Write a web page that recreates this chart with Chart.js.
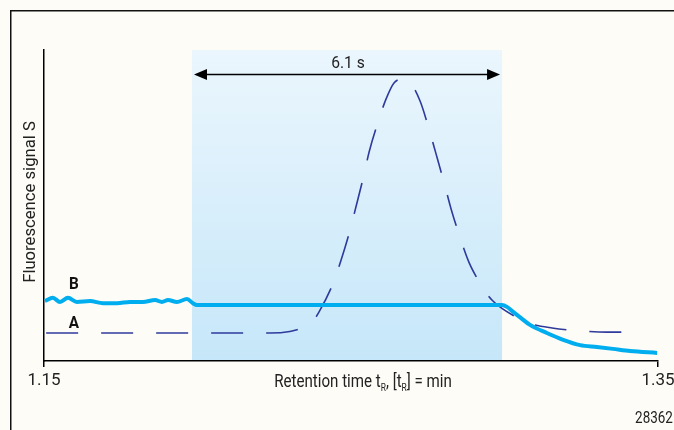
<!DOCTYPE html>
<html>
<head>
<meta charset="utf-8">
<script src="https://cdn.jsdelivr.net/npm/chart.js@4.4.1/dist/chart.umd.min.js"></script>
<style>
html,body{margin:0;padding:0;background:#fdfcf6;}
canvas{display:block;}
</style>
</head>
<body>
<canvas id="c" width="674" height="430"></canvas>
<script>
// ---- data (x in min, y in arbitrary signal units 0..100) ----
const xTickLabels = [1.15, 1.35];
const bandRange = [1.1982, 1.2992];      // 6.1 s window
const bandLabel = "6.1 s";
const arrowLevel = 92.3;

const timesA = [1.1507, 1.2236, 1.2301, 1.2340, 1.2373, 1.2396, 1.2441, 1.2467, 1.2497, 1.2516, 1.2542, 1.2559, 1.2588, 1.2614, 1.2640, 1.2669, 1.2692, 1.2725, 1.2757, 1.2777, 1.2806, 1.2826, 1.2858, 1.2884, 1.2910, 1.2933, 1.2959, 1.2985, 1.3031, 1.3077, 1.3155, 1.3262, 1.3334, 1.3441];
const signalA = [9.0, 9.0, 9.5, 10.6, 12.5, 15.8, 24.8, 32.2, 42.1, 49.5, 59.8, 67.2, 76.8, 84.2, 89.4, 90.7, 89.7, 83.6, 73.6, 66.6, 56.3, 48.9, 38.9, 31.8, 26.7, 22.8, 19.6, 17.4, 14.5, 12.2, 10.6, 9.6, 9.3, 9.3];

const timesB = [1.1503, 1.1529, 1.1552, 1.1578, 1.1607, 1.1650, 1.1692, 1.1738, 1.1780, 1.1822, 1.1862, 1.1884, 1.1904, 1.1933, 1.1966, 1.1985, 1.1998, 1.2500, 1.2992, 1.3008, 1.3028, 1.3054, 1.3083, 1.3138, 1.3191, 1.3246, 1.3301, 1.3353, 1.3409, 1.3497];
const signalB = [19.3, 20.3, 19.0, 20.3, 19.0, 19.3, 18.6, 18.6, 19.0, 19.0, 19.6, 19.0, 19.6, 19.0, 19.9, 18.6, 18.0, 18.0, 18.0, 17.4, 15.8, 13.8, 11.6, 9.0, 6.8, 5.1, 4.5, 3.9, 3.2, 2.6];

const FONT = 'Roboto, "Liberation Sans", sans-serif';

const pts = (xs, ys) => xs.map((x, i) => ({x: x, y: ys[i]}));

function txt(ctx, s, x, y, font, align, sx) {
  ctx.save();
  ctx.font = font;
  ctx.textAlign = 'left';
  const w = ctx.measureText(s).width * sx;
  let left = x;
  if (align === 'center') left = x - w / 2;
  else if (align === 'right') left = x - w;
  ctx.translate(left, y);
  ctx.scale(sx, 1);
  ctx.fillText(s, 0, 0);
  ctx.restore();
  return w;
}

const overlay = {
  id: 'overlay',
  beforeDraw(chart) {
    const ctx = chart.ctx, W = chart.width, H = chart.height;
    const ca = chart.chartArea, xs = chart.scales.x;
    ctx.save();
    ctx.fillStyle = '#fdfcf6';
    ctx.fillRect(0, 0, W, H);
    ctx.strokeStyle = '#111';
    ctx.lineWidth = 1.5;
    ctx.beginPath();
    ctx.moveTo(10.75, H);
    ctx.lineTo(10.75, 10.75);
    ctx.lineTo(W, 10.75);
    ctx.stroke();
    const x0 = xs.getPixelForValue(bandRange[0]);
    const x1 = xs.getPixelForValue(bandRange[1]);
    const g = ctx.createLinearGradient(0, ca.top, 0, ca.bottom);
    g.addColorStop(0, '#ebf6fd');
    g.addColorStop(1, '#c6e7f9');
    ctx.fillStyle = g;
    ctx.fillRect(x0, ca.top, x1 - x0, ca.bottom - ca.top);
    ctx.restore();
  },
  afterDraw(chart) {
    const ctx = chart.ctx;
    const xs = chart.scales.x, ys = chart.scales.y;
    ctx.save();
    const x0 = xs.getPixelForValue(bandRange[0]) + 2;
    const x1 = xs.getPixelForValue(bandRange[1]) - 2;
    const ay = Math.round(ys.getPixelForValue(arrowLevel)) + 0.5;
    ctx.strokeStyle = '#000';
    ctx.fillStyle = '#000';
    ctx.lineWidth = 1.5;
    ctx.beginPath();
    ctx.moveTo(x0 + 8, ay); ctx.lineTo(x1 - 8, ay); ctx.stroke();
    ctx.beginPath();
    ctx.moveTo(x0, ay); ctx.lineTo(x0 + 13, ay - 5.5); ctx.lineTo(x0 + 13, ay + 5.5); ctx.closePath(); ctx.fill();
    ctx.beginPath();
    ctx.moveTo(x1, ay); ctx.lineTo(x1 - 13, ay - 5.5); ctx.lineTo(x1 - 13, ay + 5.5); ctx.closePath(); ctx.fill();
    ctx.fillStyle = '#222';
    ctx.textBaseline = 'alphabetic';
    txt(ctx, bandLabel, (x0 + x1) / 2 + 1, ay - 7, '17px ' + FONT, 'center', 0.92);
    ctx.fillStyle = '#111';
    txt(ctx, 'B', 74, 289, 'bold 17px ' + FONT, 'center', 0.9);
    txt(ctx, 'A', 74, 328, 'bold 17px ' + FONT, 'center', 0.9);
    // y axis title
    ctx.save();
    ctx.translate(35, 202);
    ctx.rotate(-Math.PI / 2);
    ctx.fillStyle = '#222';
    txt(ctx, 'Fluorescence signal S', 0, 0, '17px ' + FONT, 'center', 0.98);
    ctx.restore();
    // x axis title with subscripts
    const main = '18px ' + FONT, sub = '10px ' + FONT, SX = 0.84;
    const parts = [['Retention time t', main, 0], ['R', sub, 4], [', [t', main, 0], ['R', sub, 4], ['] = min', main, 0]];
    let total = 0;
    parts.forEach(p => { ctx.font = p[1]; total += ctx.measureText(p[0]).width * SX; });
    let cx = 363 - total / 2;
    const by = 387;
    ctx.fillStyle = '#222';
    parts.forEach(p => { cx += txt(ctx, p[0], cx, by + p[2], p[1], 'left', SX); });
    txt(ctx, '28362', 654, 423, '16px ' + FONT, 'center', 0.84);
    ctx.restore();
  }
};

new Chart(document.getElementById('c'), {
  type: 'line',
  data: {
    datasets: [
      {
        label: 'B',
        data: pts(timesB, signalB),
        borderColor: '#00adef',
        borderWidth: 4,
        pointRadius: 0,
        cubicInterpolationMode: 'monotone',
        fill: false
      },
      {
        label: 'A',
        data: pts(timesA, signalA),
        borderColor: '#2e3a9c',
        borderWidth: 1.6,
        borderDash: [32, 23],
        pointRadius: 0,
        cubicInterpolationMode: 'monotone',
        fill: false
      }
    ]
  },
  plugins: [overlay],
  options: {
    responsive: false,
    animation: false,
    devicePixelRatio: 1,
    layout: { padding: { left: 0, right: 16, top: 50, bottom: 0 } },
    plugins: { legend: { display: false }, tooltip: { enabled: false } },
    scales: {
      x: {
        type: 'linear',
        min: 1.15, max: 1.35,
        afterBuildTicks: (s) => { s.ticks = xTickLabels.map(v => ({ value: v })); },
        afterFit: (s) => { s.height = 69; s.paddingLeft = 0; s.paddingRight = 0; },
        ticks: {
          autoSkip: false,
          maxRotation: 0,
          padding: 4,
          color: '#222',
          font: { family: FONT, size: 17 },
          callback: (v) => v.toFixed(2)
        },
        grid: { drawOnChartArea: false, drawTicks: true, tickLength: 6, color: '#000', lineWidth: 1.5 },
        border: { display: true, color: '#000', width: 1.5 }
      },
      y: {
        min: 0, max: 100,
        afterFit: (s) => { s.width = 44; s.paddingTop = 0; s.paddingBottom = 0; },
        ticks: { display: false },
        grid: { display: true, drawOnChartArea: false, drawTicks: false },
        border: { display: true, color: '#000', width: 1.5 }
      }
    }
  }
});
</script>
</body>
</html>
